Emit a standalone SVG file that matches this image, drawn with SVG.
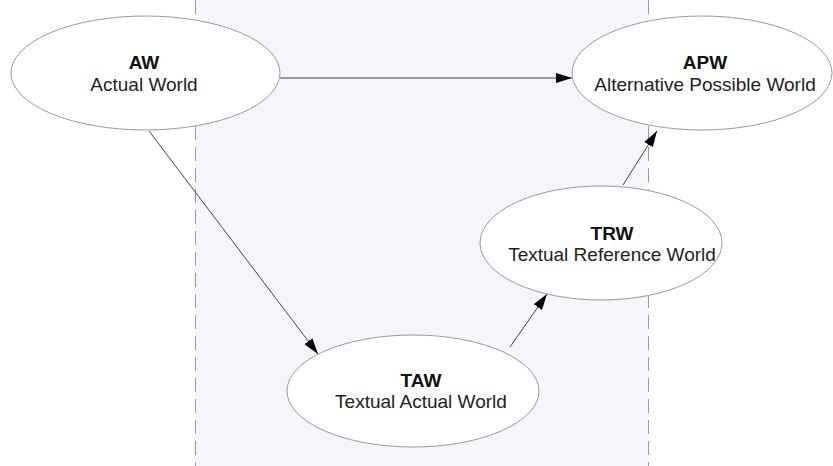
<svg xmlns="http://www.w3.org/2000/svg" width="833" height="466" viewBox="0 0 833 466">
  <defs>
    <marker id="arrow" viewBox="0 0 16 10" refX="16" refY="5" markerWidth="16" markerHeight="10" markerUnits="userSpaceOnUse" orient="auto">
      <path d="M0,0 L16,5 L0,10 Z" fill="#000"/>
    </marker>
    <style>
      .lane { fill: #f5f6fc; }
      .lane-edge { stroke: #999; stroke-width: 1; stroke-dasharray: 14 7; fill: none; }
      .node ellipse { fill: #fff; stroke: #999; stroke-width: 1; }
      .node text { font-family: "Liberation Sans", Arial, sans-serif; font-size: 19px; fill: #222; text-anchor: middle; }
      .node .title { font-weight: bold; fill: #111; }
      .edge { stroke: #444; stroke-width: 1; fill: none; marker-end: url(#arrow); }
    </style>
  </defs>

  <rect width="833" height="466" fill="#fff"/>

  <!-- shaded textual band -->
  <g id="band">
    <rect class="lane" x="195" y="0" width="453" height="466"/>
    <line class="lane-edge" x1="195.5" y1="0" x2="195.5" y2="466"/>
    <line class="lane-edge" x1="648.5" y1="0" x2="648.5" y2="466"/>
  </g>

  <g id="connectors">
    <line class="edge" x1="280" y1="78" x2="572" y2="78"/>
    <line class="edge" x1="149" y1="131" x2="318" y2="354"/>
    <line class="edge" x1="510" y1="347" x2="547" y2="294"/>
    <line class="edge" x1="623" y1="185" x2="657" y2="131"/>
  </g>

  <g id="AW" class="node">
    <ellipse cx="145.5" cy="73" rx="134.5" ry="57"/>
    <text class="title" x="144" y="69">AW</text>
    <text x="144" y="91">Actual World</text>
  </g>

  <g id="APW" class="node">
    <ellipse cx="702" cy="73" rx="130" ry="57"/>
    <text class="title" x="705" y="69">APW</text>
    <text x="705" y="91">Alternative Possible World</text>
  </g>

  <g id="TRW" class="node">
    <ellipse cx="601" cy="243" rx="121" ry="57"/>
    <text class="title" x="612" y="240">TRW</text>
    <text x="612" y="261">Textual Reference World</text>
  </g>

  <g id="TAW" class="node">
    <ellipse cx="413" cy="391" rx="126" ry="56"/>
    <text class="title" x="421" y="387">TAW</text>
    <text x="421" y="408">Textual Actual World</text>
  </g>
</svg>
